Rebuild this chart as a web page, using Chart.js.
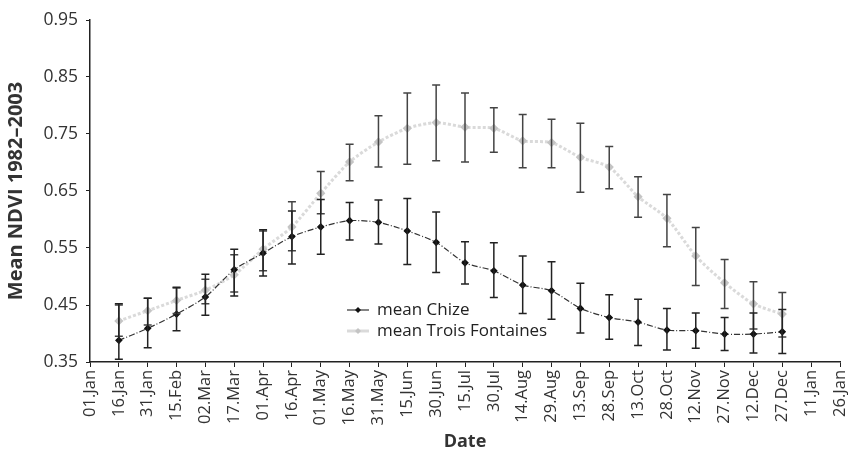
<!DOCTYPE html>
<html><head><meta charset="utf-8">
<script src="https://cdn.jsdelivr.net/npm/chart.js@4/dist/chart.umd.min.js"></script>
<style>html,body{margin:0;padding:0;background:#fff}#wrap{width:848px;height:457px}</style>
</head><body><div id="wrap"><canvas id="c" width="848" height="457"></canvas></div>
<script>
const dateLabels = ['01.Jan','16.Jan','31.Jan','15.Feb','02.Mar','17.Mar','01.Apr','16.Apr','01.May','16.May','31.May','15.Jun','30.Jun','15.Jul','30.Jul','14.Aug','29.Aug','13.Sep','28.Sep','13.Oct','28.Oct','12.Nov','27.Nov','12.Dec','27.Dec','11.Jan','26.Jan'];
const yTicks = [0.35,0.45,0.55,0.65,0.75,0.85,0.95];
const seriesNames = ['mean Chize','mean Trois Fontaines'];

const chizeMean = [null,0.388,0.409,0.434,0.464,0.512,0.541,0.570,0.587,0.598,0.595,0.580,0.560,0.524,0.510,0.485,0.475,0.444,0.428,0.420,0.406,0.405,0.399,0.399,0.403,null,null];
const chizeLow  = [null,0.355,0.375,0.405,0.432,0.466,0.501,0.522,0.539,0.564,0.557,0.521,0.507,0.487,0.463,0.435,0.425,0.401,0.390,0.379,0.371,0.374,0.370,0.366,0.365,null,null];
const chizeHigh = [null,0.452,0.462,0.481,0.504,0.548,0.582,0.615,0.635,0.630,0.634,0.637,0.613,0.561,0.559,0.536,0.526,0.488,0.468,0.460,0.444,0.436,0.428,0.436,0.442,null,null];

const tfMean = [null,0.422,0.440,0.458,0.476,0.503,0.548,0.587,0.646,0.701,0.736,0.760,0.770,0.762,0.760,0.738,0.735,0.709,0.692,0.640,0.602,0.536,0.489,0.452,0.434,null,null];
const tfLow  = [null,0.395,0.415,0.435,0.452,0.473,0.510,0.545,0.610,0.668,0.692,0.697,0.703,0.701,0.718,0.691,0.691,0.648,0.654,0.604,0.552,0.484,0.444,0.408,0.394,null,null];
const tfHigh = [null,0.450,0.462,0.480,0.495,0.538,0.580,0.631,0.684,0.732,0.782,0.822,0.836,0.822,0.796,0.784,0.776,0.769,0.728,0.675,0.644,0.586,0.530,0.491,0.472,null,null];

const FONT = "'Open Sans', sans-serif";

const errorBars = {
  id: 'errorBars',
  afterDatasetsDraw(chart, args, opts) {
    const {ctx, scales: {x, y}} = chart;
    (opts.sets || []).forEach(s => {
      ctx.save();
      ctx.strokeStyle = s.color;
      ctx.lineWidth = s.width || 1.5;
      s.low.forEach((lo, j) => {
        const hi = s.high[j];
        if (lo == null || hi == null) return;
        const px = x.getPixelForValue(j);
        const y1 = y.getPixelForValue(lo), y2 = y.getPixelForValue(hi);
        ctx.beginPath();
        ctx.moveTo(px, y1); ctx.lineTo(px, y2);
        ctx.moveTo(px - 4, y1); ctx.lineTo(px + 4, y1);
        ctx.moveTo(px - 4, y2); ctx.lineTo(px + 4, y2);
        ctx.stroke();
      });
      ctx.restore();
    });
  }
};

const customLegend = {
  id: 'customLegend',
  afterDraw(chart, args, opts) {
    const ctx = chart.ctx;
    ctx.save();
    chart.data.datasets.forEach((ds, i) => {
      const yy = opts.y + i * opts.gap;
      ctx.strokeStyle = ds.borderColor;
      ctx.lineWidth = ds.borderWidth;
      ctx.setLineDash([]);
      ctx.beginPath(); ctx.moveTo(opts.x, yy); ctx.lineTo(opts.x + 22, yy); ctx.stroke();
      ctx.fillStyle = ds.pointBackgroundColor;
      ctx.beginPath();
      const cx = opts.x + 11, r = 3;
      ctx.moveTo(cx, yy - r); ctx.lineTo(cx + r, yy); ctx.lineTo(cx, yy + r); ctx.lineTo(cx - r, yy); ctx.closePath(); ctx.fill();
      ctx.fillStyle = '#222';
      ctx.font = '17px ' + FONT;
      ctx.textBaseline = 'middle';
      ctx.fillText(ds.label, opts.x + 30, yy);
    });
    ctx.restore();
  }
};

new Chart(document.getElementById('c'), {
  type: 'line',
  data: {
    labels: dateLabels,
    datasets: [
      {
        label: seriesNames[0], data: chizeMean,
        borderColor: '#333', borderWidth: 1.2, borderDash: [6, 2, 1, 2],
        pointStyle: 'rectRot', pointRadius: 3, pointBackgroundColor: '#111', pointBorderColor: '#111',
        tension: 0.25, order: 1
      },
      {
        label: seriesNames[1], data: tfMean,
        borderColor: '#dadada', borderWidth: 3, borderDash: [3, 2],
        pointStyle: 'rectRot', pointRadius: 2.5, pointBackgroundColor: '#c4c4c4', pointBorderColor: '#c4c4c4',
        tension: 0.25, order: 2
      }
    ]
  },
  options: {
    responsive: false,
    animation: false,
    layout: { padding: { top: 20, right: 8, left: 0, bottom: 0 } },
    plugins: {
      legend: { display: false },
      tooltip: { enabled: false },
      errorBars: { sets: [
        { low: tfLow, high: tfHigh, color: '#444', width: 1.5 },
        { low: chizeLow, high: chizeHigh, color: '#222', width: 1.5 }
      ] },
      customLegend: { x: 347, y: 310, gap: 21 }
    },
    scales: {
      x: {
        type: 'category', offset: false,
        grid: { drawOnChartArea: false, drawTicks: true, tickLength: 5, color: '#222' },
        border: { display: true, color: '#222', width: 1.5 },
        ticks: { autoSkip: false, maxRotation: 90, minRotation: 90, color: '#333', padding: 3, font: { family: FONT, size: 16.5 } },
        title: { display: true, text: 'Date', color: '#333', padding: { top: 0, bottom: 4 }, font: { family: FONT, size: 18, weight: 'bold' } },
        afterFit: s => { s.height = 95; s.paddingRight = 0; s.paddingLeft = 0; }
      },
      y: {
        min: 0.35, max: 0.95,
        afterBuildTicks: s => { s.ticks = yTicks.map(v => ({ value: v })); },
        grid: { drawOnChartArea: false, drawTicks: true, tickLength: 4, color: '#222' },
        border: { display: true, color: '#222', width: 1.5 },
        ticks: { color: '#333', padding: 8, font: { family: FONT, size: 17.5 }, callback: v => Number(v).toFixed(2) },
        title: { display: true, text: 'Mean NDVI 1982–2003', color: '#333', padding: { top: 4, bottom: 0 }, font: { family: FONT, size: 20, weight: 'bold' } },
        afterFit: s => { s.width = 90; s.paddingTop = 0; s.paddingBottom = 0; }
      }
    }
  },
  plugins: [errorBars, customLegend]
});
</script>
</body></html>
